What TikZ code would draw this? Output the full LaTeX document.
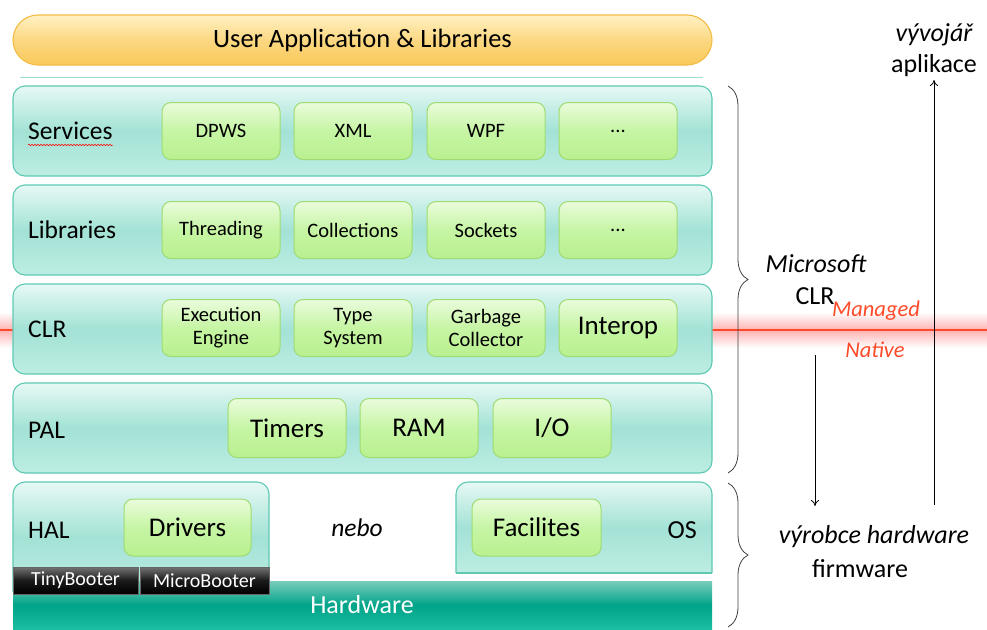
\documentclass[tikz,border=0pt]{standalone}
\usepackage{fontspec}
\setmainfont{Carlito}
\usetikzlibrary{decorations.pathreplacing,decorations.pathmorphing,arrows.meta}
\definecolor{rowb}{HTML}{5EC9B3}
\definecolor{rowt}{HTML}{E6F9F5}
\definecolor{rowm}{HTML}{A3E2D5}
\definecolor{rowbot}{HTML}{BDEDE3}
\definecolor{gb}{HTML}{9EDC72}
\definecolor{gt}{HTML}{EAFCDC}
\definecolor{gm}{HTML}{C6F5A4}
\definecolor{gbot}{HTML}{B9F08F}
\definecolor{yb}{HTML}{F4BC45}
\definecolor{yt}{HTML}{FFF1C4}
\definecolor{ym}{HTML}{FCD882}
\definecolor{ybot}{HTML}{F9C95A}
\definecolor{hwt}{HTML}{7ACDBC}
\definecolor{hwm}{HTML}{00A489}
\definecolor{hwb}{HTML}{1CBDA1}
\definecolor{redl}{HTML}{FF4A2A}
\begin{document}
\begin{tikzpicture}[x=1pt,y=-1pt,
  row/.style={draw=rowb, line width=1.1pt, rounded corners=12pt, top color=rowt, bottom color=rowbot, middle color=rowm, minimum width=699pt, minimum height=90pt, inner sep=0pt},
  gbox/.style={draw=gb, line width=1pt, rounded corners=9pt, top color=gt, bottom color=gbot, middle color=gm, minimum width=118pt, minimum height=57pt, inner sep=0pt, align=center, font=\fontsize{20.5}{23}\selectfont},
  bigbox/.style={gbox, font=\fontsize{27}{30}\selectfont},
  rowlabel/.style={anchor=west, inner sep=0pt, font=\fontsize{25.5}{29}\selectfont},
  side/.style={inner sep=0pt, font=\fontsize{26}{30}\selectfont, align=center},
  redlbl/.style={inner sep=0pt, text=redl, font=\fontsize{22.5}{26}\selectfont\itshape},
  boot/.style={draw=black!60, line width=0.6pt, top color=black!55, bottom color=black, middle color=black!90, text=white, minimum height=27pt, inner sep=0pt, font=\fontsize{20}{22}\selectfont},
  arr/.style={-{To[length=6pt,width=8pt]}, line width=0.8pt},
  brc/.style={decorate, decoration={brace, amplitude=20pt}, line width=0.8pt, black!75}
]
\useasboundingbox (0,0) rectangle (987,629);
% red managed/native line with glow
\shade[top color=white, bottom color=white, middle color=red!30] (0,312) rectangle (987,348);
\draw[redl, line width=1.6pt] (0,330) -- (987,330);

% top pill
\node[draw=yb, line width=1.1pt, rounded corners=25pt, top color=yt, bottom color=ybot, middle color=ym, minimum width=699pt, minimum height=50pt, font=\fontsize{26.5}{30}\selectfont] (app) at (362.5,40) {User Application \& Libraries};
\draw[rowb!60, line width=1pt] (20,77) -- (703,77);

% rows
\node[row] (services) at (362.5,131) {};
\node[row] (libraries) at (362.5,230) {};
\node[row] (clr) at (362.5,329) {};
\node[row] (pal) at (362.5,428) {};

\node[rowlabel] (servl) at (28,131) {Services};
\draw[red, line width=0.5pt, decorate, decoration={snake, segment length=3pt, amplitude=0.8pt}] (28,145) -- (113,145);
\node[rowlabel] (libl) at (28,230) {Libraries};
\node[rowlabel] (clrl) at (28,329) {CLR};
\node[rowlabel] (pall) at (28,430) {PAL};

\node[gbox] (dpws) at (221,131) {DPWS};
\node[gbox] (xml) at (353,131) {XML};
\node[gbox] (wpf) at (486,131) {WPF};
\node[gbox] (sdots) at (618,131) {...};

\node[gbox] (thr) at (221,230) {Threading};
\node[gbox] (col) at (353,230) {Collections};
\node[gbox] (sock) at (486,230) {Sockets};
\node[gbox] (ldots) at (618,230) {...};

\node[gbox] (exe) at (221,328) {Execution\\Engine};
\node[gbox] (type) at (353,328) {Type\\System};
\node[gbox] (gc) at (486,328) {Garbage\\Collector};
\node[bigbox] (interop) at (618,328) {Interop};

\node[bigbox, minimum height=59pt] (timers) at (287,428) {Timers};
\node[bigbox, minimum height=59pt] (ram) at (419,428) {RAM};
\node[bigbox, minimum height=59pt] (io) at (552,428) {I/O};

% HAL and OS
\shade[draw=rowb, line width=1.1pt, rounded corners=12pt, top color=rowt, bottom color=rowbot, middle color=rowm] (13,592) -- (13,482) -- (269,482) -- (269,592);
\shade[draw=rowb, line width=1.1pt, rounded corners=12pt, top color=rowt, bottom color=rowbot, middle color=rowm] (456,573) -- (456,482) -- (712,482) -- (712,573);
\draw[rowb, line width=1.1pt] (456,573) -- (712,573);
\node[rowlabel] (hall) at (28,530) {HAL};
\node[bigbox, minimum width=127pt] (drivers) at (187.5,527.5) {Drivers};
\node[bigbox, minimum width=129pt] (fac) at (536.5,527.5) {Facilites};
\node[side, anchor=east] (os) at (697,530) {OS};
\node[side, font=\fontsize{25.5}{29}\selectfont\itshape] (nebo) at (357,528) {nebo};

% hardware
\shade[top color=hwt, bottom color=hwb, middle color=hwm] (13,581) rectangle (712,629);
\node[inner sep=0pt, text=white, font=\fontsize{26}{30}\selectfont] (hw) at (362,605) {Hardware};
\node[boot, minimum width=125pt] (tiny) at (75.5,580.5) {TinyBooter};
\node[boot, minimum width=129pt] (micro) at (204.5,580.5) {MicroBooter};

% braces
\coordinate (b1t) at (728,86);
\coordinate (b1b) at (728,473);
\coordinate (b2t) at (728,483);
\coordinate (b2b) at (728,627);
\draw[brc] (b1t) -- (b1b);
\draw[brc] (b2t) -- (b2b);

% right labels
\node[side, font=\fontsize{26}{30}\selectfont\itshape] (vyv) at (934,35) {vývojář};
\node[side] (apl) at (934,66) {aplikace};
\node[side, font=\fontsize{26}{30}\selectfont\itshape] (ms) at (816,264) {Microsoft};
\node[side] (clrr) at (815,296) {CLR};
\node[redlbl] (managed) at (876,311) {Managed};
\node[redlbl] (native) at (875,350) {Native};
\node[side, font=\fontsize{26}{30}\selectfont\itshape] (vyr) at (874,537) {výrobce hardware};
\node[side] (fw) at (860,569) {firmware};

% arrows
\coordinate (dtop) at (815,355);
\coordinate (dbot) at (815,506);
\coordinate (ubot) at (934,505);
\coordinate (utop) at (934,80);
\draw[arr] (dtop) -- (dbot);
\draw[arr] (ubot) -- (utop);
\end{tikzpicture}
\end{document}
